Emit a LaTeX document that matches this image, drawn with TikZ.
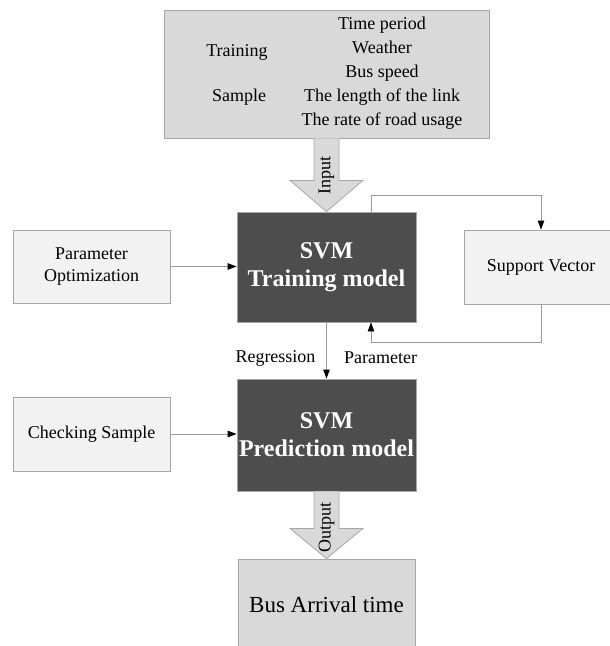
\documentclass[tikz,border=0pt]{standalone}
\usepackage{fontspec}
\setmainfont{Liberation Serif}
\usetikzlibrary{arrows.meta,calc}
\definecolor{boxgray}{HTML}{D9D9D9}
\definecolor{lightbox}{HTML}{F2F2F2}
\definecolor{darkbox}{HTML}{4D4D4D}
\definecolor{edgegray}{HTML}{A6A6A6}
\definecolor{linegray}{HTML}{9A9A9A}
\begin{document}
\begin{tikzpicture}[x=1pt,y=-1pt,
  base/.style={draw=edgegray, line width=0.8pt, rectangle, inner sep=0pt, align=center},
  inbox/.style={base, fill=boxgray},
  sidebox/.style={base, fill=lightbox, font=\fontsize{18}{22}\selectfont},
  darknode/.style={base, fill=darkbox, text=white, font=\fontsize{24}{28}\selectfont\bfseries},
  conn/.style={draw=linegray, line width=0.8pt, -{Triangle[length=9pt,width=6.5pt,color=black]}},
  blockarrow/.style={draw=edgegray, fill=boxgray, line width=0.8pt, line join=miter},
  lbl/.style={font=\fontsize{18}{22}\selectfont, inner sep=0pt}]
\useasboundingbox (0,0) rectangle (610,646);
\clip (0,0) rectangle (610,646);

% training sample box
\node[inbox, minimum width=325pt, minimum height=128pt] (sample) at (326.5,74) {};
\node[lbl, align=center, font=\fontsize{18}{24}\selectfont] (features) at (382,73)
  {Time period\\Weather\\Bus speed\\The length of the link\\The rate of road usage};
\node[lbl] (trainingword) at (237,52) {Training};
\node[lbl] (sampleword) at (239,97) {Sample};

% main boxes
\node[darknode, minimum width=179pt, minimum height=110pt] (train) at (326.5,267) {SVM\\Training model};
\node[darknode, minimum width=179pt, minimum height=112pt] (pred) at (326.5,435) {SVM\\Prediction model};
\node[sidebox, minimum width=157pt, minimum height=73pt] (param) at (91.5,266.5) {Parameter\\Optimization};
\node[sidebox, minimum width=154pt, minimum height=74pt] (support) at (541,267) {Support Vector};
\node[sidebox, minimum width=157pt, minimum height=74pt] (check) at (91.5,434) {Checking Sample};
\node[inbox, minimum width=177pt, minimum height=92pt, font=\fontsize{23}{27}\selectfont] (bus) at (326.5,605) {Bus Arrival time};

% block arrows
\draw[blockarrow] ($(sample.south)+(-12.5,0)$) -- ($(sample.south)+(-12.5,42)$)
  -- ($(sample.south)+(-36.5,42)$) -- (train.north) -- ($(sample.south)+(36.5,42)$)
  -- ($(sample.south)+(12.5,42)$) -- ($(sample.south)+(12.5,0)$);
\node[lbl, rotate=90] (inlbl) at (326.5,175) {Input};

\draw[blockarrow] ($(pred.south)+(-12.5,0)$) -- ($(pred.south)+(-12.5,37)$)
  -- ($(pred.south)+(-36.5,37)$) -- (bus.north) -- ($(pred.south)+(36.5,37)$)
  -- ($(pred.south)+(12.5,37)$) -- ($(pred.south)+(12.5,0)$);
\node[lbl, rotate=90] (outlbl) at (326.5,527) {Output};

% connectors
\draw[conn] (param.east) -- (param.east -| train.west);
\draw[conn] (check.east) -- (check.east -| pred.west);
\draw[conn] ($(train.north)+(44.5,0)$) -- ++(0,-16) -| (support.north);
\draw[conn] (support.south) -- ++(0,38) -| ($(train.south)+(44.5,0)$);
\draw[conn] (train.south) -- (pred.north);
\node[lbl] (regr) at (275.5,358) {Regression};
\node[lbl] (paramlbl) at (380.5,358) {Parameter};
\end{tikzpicture}
\end{document}
